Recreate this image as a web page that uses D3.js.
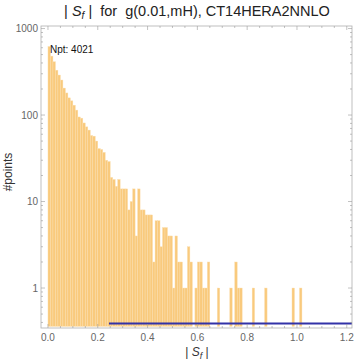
<!DOCTYPE html>
<html>
<head>
<meta charset="utf-8">
<script src="https://cdn.jsdelivr.net/npm/d3@7"></script>
<style>
  body { margin: 0; background: #fff; }
  svg { display: block; font-family: "Liberation Sans", Arial, sans-serif; }
  text { white-space: pre; }
</style>
</head>
<body>
<div id="chart"></div>
<script>
// histogram of |S_f|, bin width 0.01, counts
const binWidth = 0.01;
const counts = [
  620, 480, 413, 330, 290, 254, 205, 180, 158, 146,
  130, 114, 95, 92, 81, 73, 67, 58, 57, 50,
  41, 40, 37, 30, 29, 19, 18, 15, 18, 14,
  14, 14, 8, 10, 14, 4, 14, 8, 8, 7,
  7, 7, 2, 6, 6, 3, 5, 5, 4, 4,
  1, 4, 2, 2, 1, 1, 3, 2, 0, 1,
  2, 2, 1, 1, 2, 0, 0, 0, 1, 0,
  0, 0, 0, 1, 0, 2, 1, 1, 0, 0,
  0, 0, 1, 0, 0, 0, 0, 1, 0, 0,
  0, 0, 0, 0, 0, 0, 0, 0, 1, 0,
  0, 1
];
const xTicks = [0, 0.2, 0.4, 0.6, 0.8, 1.0, 1.2];
const yTicks = [1, 10, 100, 1000];
const refLine = { from: 0.245, value: 0.39 };
const npt = 4021;

const width = 354, height = 360;
const plotLeft = 41, plotRight = 352, plotTop = 26, plotBottom = 328;

const svg = d3.select("#chart").append("svg")
  .attr("width", width)
  .attr("height", height);

const x = d3.scaleLinear().domain([-0.028, 1.221]).range([plotLeft, plotRight]);
const y = d3.scaleLog().domain([0.345, 1070]).range([plotBottom, plotTop]);

const bins = counts.map((c, i) => ({ x0: i * binWidth, x1: (i + 1) * binWidth, n: c }))
  .filter(d => d.n > 0);

// bars
svg.append("g")
  .selectAll("rect")
  .data(bins)
  .enter()
  .append("rect")
  .attr("x", d => x(d.x0))
  .attr("width", d => x(d.x1) - x(d.x0))
  .attr("y", d => y(d.n))
  .attr("height", d => y(0.36) - y(d.n))
  .attr("fill", "#f9ca7d")
  .attr("stroke", "#fbdfb0")
  .attr("stroke-width", 0.4);

// reference line
svg.append("line")
  .attr("x1", x(refLine.from))
  .attr("x2", plotRight)
  .attr("y1", y(refLine.value))
  .attr("y2", y(refLine.value))
  .attr("stroke", "#3232a8")
  .attr("stroke-width", 2);

// frame
svg.append("rect")
  .attr("x", plotLeft)
  .attr("y", plotTop)
  .attr("width", plotRight - plotLeft)
  .attr("height", plotBottom - plotTop)
  .attr("fill", "none")
  .attr("stroke", "#b0b0b0")
  .attr("stroke-width", 0.8);

const tickColor = "#999";
const g = svg.append("g");

// x ticks, bottom and top
const xMinor = d3.range(0, 1.21, 0.05);
xMinor.forEach(v => {
  const major = xTicks.some(t => Math.abs(t - v) < 1e-6);
  const len = major ? 4 : 2;
  g.append("line").attr("x1", x(v)).attr("x2", x(v))
    .attr("y1", plotBottom).attr("y2", plotBottom - len)
    .attr("stroke", tickColor).attr("stroke-width", 0.6);
  g.append("line").attr("x1", x(v)).attr("x2", x(v))
    .attr("y1", plotTop).attr("y2", plotTop + len)
    .attr("stroke", tickColor).attr("stroke-width", 0.6);
});

// y ticks, left and right
const yMinor = [];
[0.1, 1, 10, 100, 1000].forEach(d => {
  for (let k = 1; k < 10; k++) {
    const v = d * k;
    if (v >= 0.345 && v <= 1070) yMinor.push(v);
  }
});
yMinor.forEach(v => {
  const major = yTicks.includes(v);
  const len = major ? 4 : 2;
  g.append("line").attr("x1", plotLeft).attr("x2", plotLeft + len)
    .attr("y1", y(v)).attr("y2", y(v))
    .attr("stroke", tickColor).attr("stroke-width", 0.6);
  g.append("line").attr("x1", plotRight).attr("x2", plotRight - len)
    .attr("y1", y(v)).attr("y2", y(v))
    .attr("stroke", tickColor).attr("stroke-width", 0.6);
});

// tick labels
g.selectAll(".xl")
  .data(xTicks)
  .enter()
  .append("text")
  .attr("x", d => x(d))
  .attr("y", plotBottom + 13)
  .attr("text-anchor", "middle")
  .attr("font-size", 10)
  .attr("fill", "#666")
  .text(d => d.toFixed(1));

g.selectAll(".yl")
  .data(yTicks)
  .enter()
  .append("text")
  .attr("x", plotLeft - 3)
  .attr("y", d => y(d) + 3.5)
  .attr("text-anchor", "end")
  .attr("font-size", 10)
  .attr("fill", "#666")
  .text(d => d);

// title
const title = svg.append("text")
  .attr("x", 197)
  .attr("y", 16)
  .attr("text-anchor", "middle")
  .attr("font-size", 14.5)
  .attr("fill", "#222");
title.append("tspan").text("| ");
title.append("tspan").attr("font-style", "italic").text("S");
title.append("tspan").attr("font-style", "italic").attr("font-size", 10).attr("dy", 3).text("f");
title.append("tspan").attr("dy", -3).text(" |  for  g(0.01,mH), CT14HERA2NNLO");

// x label
const xl = svg.append("text")
  .attr("x", 197)
  .attr("y", 356)
  .attr("text-anchor", "middle")
  .attr("font-size", 12)
  .attr("fill", "#333");
xl.append("tspan").text("| ");
xl.append("tspan").attr("font-style", "italic").text("S");
xl.append("tspan").attr("font-style", "italic").attr("font-size", 9).attr("dy", 3).text("f");
xl.append("tspan").attr("dy", -3).text(" |");

// y label
svg.append("text")
  .attr("transform", "translate(12,172) rotate(-90)")
  .attr("text-anchor", "middle")
  .attr("font-size", 12)
  .attr("fill", "#333")
  .text("#points");

// Npt annotation
svg.append("text")
  .attr("x", 50)
  .attr("y", 53)
  .attr("font-size", 10)
  .attr("fill", "#111")
  .text(`Npt: ${npt}`);
</script>
</body>
</html>
